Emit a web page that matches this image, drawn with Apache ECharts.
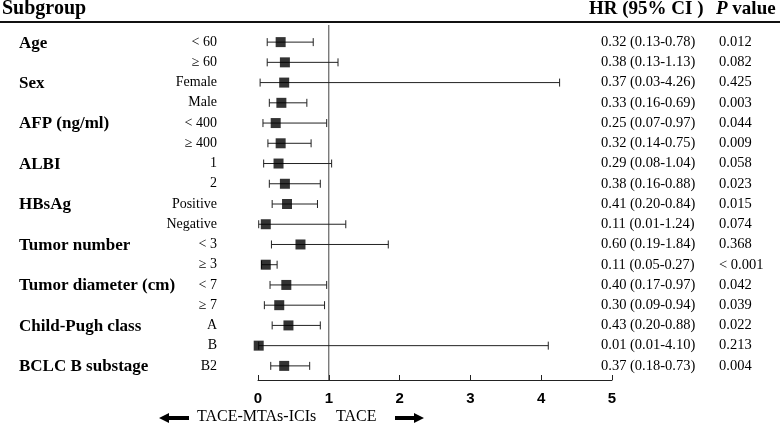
<!DOCTYPE html>
<html>
<head>
<meta charset="utf-8">
<script src="https://cdn.jsdelivr.net/npm/echarts@6/dist/echarts.min.js"></script>
<style>
html, body { margin: 0; padding: 0; background: #fff; }
#main { width: 780px; height: 426px; }
</style>
</head>
<body>
<div id="main"></div>
<script>
var groups = ['Age', 'Sex', 'AFP (ng/ml)', 'ALBI', 'HBsAg', 'Tumor number', 'Tumor diameter (cm)', 'Child-Pugh class', 'BCLC B substage'];
var groupRows = [0, 2, 4, 6, 8, 10, 12, 14, 16];
var subLabels = ['< 60', '\u2265 60', 'Female', 'Male', '< 400', '\u2265 400', '1', '2', 'Positive', 'Negative', '< 3', '\u2265 3', '< 7', '\u2265 7', 'A', 'B', 'B2'];
var hr = [0.32, 0.38, 0.37, 0.33, 0.25, 0.32, 0.29, 0.38, 0.41, 0.11, 0.60, 0.11, 0.40, 0.30, 0.43, 0.01, 0.37];
var lower = [0.13, 0.13, 0.03, 0.16, 0.07, 0.14, 0.08, 0.16, 0.20, 0.01, 0.19, 0.05, 0.17, 0.09, 0.20, 0.01, 0.18];
var upper = [0.78, 1.13, 4.26, 0.69, 0.97, 0.75, 1.04, 0.88, 0.84, 1.24, 1.84, 0.27, 0.97, 0.94, 0.88, 4.10, 0.73];
var pValues = ['0.012', '0.082', '0.425', '0.003', '0.044', '0.009', '0.058', '0.023', '0.015', '0.074', '0.368', '< 0.001', '0.042', '0.039', '0.022', '0.213', '0.004'];
var xTicks = [0, 1, 2, 3, 4, 5];

var serif = '"Liberation Serif", "Times New Roman", serif';
var sans = '"Liberation Sans", Arial, sans-serif';

var myChart = echarts.init(document.getElementById('main'));

var rowIdx = subLabels.map(function (s, i) { return i; });

// error bars: [hr, row, lower, upper]
var barData = hr.map(function (v, i) { return [v, i, lower[i], upper[i]]; });
var pointData = hr.map(function (v, i) { return [v, i]; });
// text rows
var textData = hr.map(function (v, i) { return [0, i]; });
var groupData = groups.map(function (g, i) { return [0, groupRows[i]]; });

function hrText(i) {
    return hr[i].toFixed(2) + ' (' + lower[i].toFixed(2) + '-' + upper[i].toFixed(2) + ')';
}

option = {
    animation: false,
    backgroundColor: '#fff',
    grid: { left: 258, width: 354, top: 32, height: 344 },
    xAxis: {
        type: 'value',
        min: 0,
        max: 5,
        interval: 1,
        offset: 4,
        axisLine: { show: true, lineStyle: { color: '#222', width: 1 } },
        axisTick: { show: true, inside: true, length: 5, lineStyle: { color: '#222' } },
        axisLabel: {
            margin: 11,
            color: '#000',
            fontFamily: sans,
            fontWeight: 'bold',
            fontSize: 15,
            formatter: function (v) { return xTicks.indexOf(v) >= 0 ? String(v) : ''; }
        },
        splitLine: { show: false }
    },
    yAxis: {
        type: 'category',
        data: rowIdx,
        inverse: true,
        show: false
    },
    graphic: [
        { type: 'line', shape: { x1: 0, y1: 22, x2: 780, y2: 22 }, style: { stroke: '#111', lineWidth: 2 } },
        { type: 'text', left: 2, top: -1, style: { text: 'Subgroup', font: 'bold 20px ' + serif, fill: '#000' } },
        { type: 'text', left: 589, top: 0, style: { text: 'HR (95% CI )', font: 'bold 19px ' + serif, fill: '#000' } },
        { type: 'text', left: 716, top: 0, style: { text: '{i|P} value', font: 'bold 19px ' + serif, fill: '#000',
            rich: { i: { fontStyle: 'italic', fontWeight: 'bold', fontSize: 19, fontFamily: serif } } } },
        // arrows
        { type: 'polygon', shape: { points: [[159, 418], [169, 413], [169, 416], [189, 416], [189, 420], [169, 420], [169, 423]] }, style: { fill: '#000' } },
        { type: 'polygon', shape: { points: [[424, 418], [414, 413], [414, 416], [395, 416], [395, 420], [414, 420], [414, 423]] }, style: { fill: '#000' } },
        { type: 'text', left: 197, top: 409, style: { text: 'TACE-MTAs-ICIs', font: '16px ' + serif, fill: '#000' } },
        { type: 'text', left: 336, top: 409, style: { text: 'TACE', font: '16px ' + serif, fill: '#000' } }
    ],
    series: [
        {
            // reference line at HR = 1
            type: 'custom',
            data: [[1, 0]],
            silent: true,
            renderItem: function (params, api) {
                var x = api.coord([api.value(0), 0])[0];
                var cs = params.coordSys;
                return {
                    type: 'line',
                    shape: { x1: x, y1: cs.y - 7, x2: x, y2: cs.y + cs.height + 4 },
                    style: { stroke: '#444', lineWidth: 1 }
                };
            },
            z: 1
        },
        {
            type: 'custom',
            data: barData,
            silent: true,
            renderItem: function (params, api) {
                var y = api.coord([0, api.value(1)])[1];
                var x1 = api.coord([api.value(2), 0])[0];
                var x2 = api.coord([api.value(3), 0])[0];
                var st = { stroke: '#222', lineWidth: 1 };
                return {
                    type: 'group',
                    children: [
                        { type: 'line', shape: { x1: x1, y1: y, x2: x2, y2: y }, style: st },
                        { type: 'line', shape: { x1: x1, y1: y - 4, x2: x1, y2: y + 4 }, style: st },
                        { type: 'line', shape: { x1: x2, y1: y - 4, x2: x2, y2: y + 4 }, style: st }
                    ]
                };
            },
            z: 2
        },
        {
            type: 'scatter',
            data: pointData,
            symbol: 'rect',
            symbolSize: 10,
            itemStyle: { color: '#000' },
            silent: true,
            z: 3
        },
        {
            // sub-labels, HR text, p values
            type: 'custom',
            data: textData,
            silent: true,
            renderItem: function (params, api) {
                var i = params.dataIndex;
                var y = api.coord([0, api.value(1)])[1];
                return {
                    type: 'group',
                    children: [
                        { type: 'text', x: 217, y: y, style: { text: subLabels[i], font: '14px ' + serif, fill: '#000', textAlign: 'right', textVerticalAlign: 'middle' } },
                        { type: 'text', x: 601, y: y, style: { text: hrText(i), font: '14.5px ' + serif, fill: '#000', textAlign: 'left', textVerticalAlign: 'middle' } },
                        { type: 'text', x: 719, y: y, style: { text: pValues[i], font: '14.5px ' + serif, fill: '#000', textAlign: 'left', textVerticalAlign: 'middle' } }
                    ]
                };
            }
        },
        {
            // group names
            type: 'custom',
            data: groupData,
            silent: true,
            renderItem: function (params, api) {
                var y = api.coord([0, api.value(1)])[1];
                return {
                    type: 'text', x: 19, y: y + 1,
                    style: { text: groups[params.dataIndex], font: 'bold 17px ' + serif, fill: '#000', textAlign: 'left', textVerticalAlign: 'middle' }
                };
            }
        }
    ]
};

myChart.setOption(option);
</script>
</body>
</html>
